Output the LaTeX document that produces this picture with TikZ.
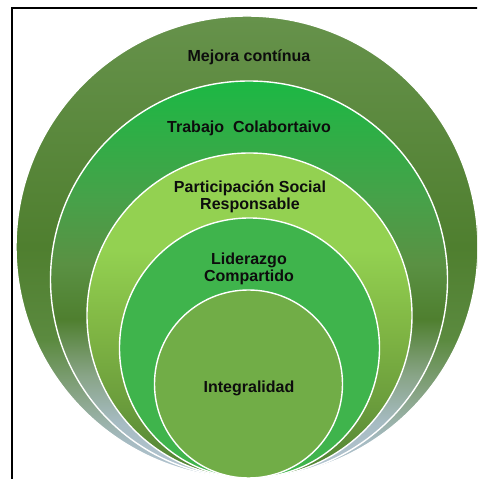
\documentclass[tikz,border=0pt]{standalone}
\usepackage{fontspec}
\setmainfont{Liberation Sans}

\definecolor{grisazul}{HTML}{B6C7D4}
\definecolor{grisclaro}{HTML}{A6BBC2}
\definecolor{grisverde}{HTML}{88A486}
\definecolor{oliva}{HTML}{66924B}
\definecolor{olivaosc}{HTML}{4F7F2F}
\definecolor{olivamed}{HTML}{5B8A3F}
\definecolor{verdevivo}{HTML}{1CB844}
\definecolor{verdemed}{HTML}{47A149}
\definecolor{verdeoliva}{HTML}{5A9143}
\definecolor{verdeclaro}{HTML}{93D151}
\definecolor{verdeclaro2}{HTML}{80B644}
\definecolor{verdeclaro3}{HTML}{6A9C3C}
\definecolor{verdeclaro4}{HTML}{4F8035}
\definecolor{verdelider}{HTML}{3FB44C}
\definecolor{verdeinteg}{HTML}{71AD47}

\pgfdeclareverticalshading{sombramejora}{100bp}{color(0bp)=(grisazul); color(25bp)=(grisazul); color(29bp)=(grisclaro); color(34bp)=(grisverde); color(40bp)=(olivamed); color(50bp)=(olivaosc); color(75bp)=(oliva); color(100bp)=(oliva)}
\pgfdeclareverticalshading{sombratrabajo}{100bp}{color(0bp)=(grisazul); color(25bp)=(grisazul); color(32bp)=(grisclaro); color(38bp)=(grisverde); color(45bp)=(olivaosc); color(52bp)=(verdeoliva); color(60bp)=(verdemed); color(75bp)=(verdevivo); color(100bp)=(verdevivo)}
\pgfdeclareverticalshading{sombraparticipacion}{100bp}{color(0bp)=(verdeclaro4); color(25bp)=(verdeclaro4); color(36bp)=(verdeclaro3); color(48bp)=(verdeclaro2); color(60bp)=(verdeclaro); color(75bp)=(verdeclaro); color(100bp)=(verdeclaro)}

\tikzset{
  anillo/.style={circle, draw=white, line width=1.4pt, inner sep=0pt, outer sep=0pt},
  etiqueta/.style={text=black!95, font=\bfseries\fontsize{16}{16.8}\selectfont, align=center},
  marco/.style={draw=black, line width=2pt}
}

\begin{document}
\begin{tikzpicture}[x=1pt,y=1pt]
\useasboundingbox (0,0) rectangle (477,479);
\clip (0,0) rectangle (477,479);

% marco
\coordinate (marcoab) at (12,-5);
\coordinate (marcoar) at (490,471);
\draw[marco] (marcoab) |- (marcoar);

% circulos
\node[anillo, minimum size=462pt, shade, shading=sombramejora] (mejora) at (247,232) {};
\node[anillo, minimum size=397pt, shade, shading=sombratrabajo] (trabajo) at (249,199.5) {};
\node[anillo, minimum size=325pt, shade, shading=sombraparticipacion] (participacion) at (249.5,163.5) {};
\node[anillo, minimum size=260pt, fill=verdelider] (liderazgo) at (249.5,131) {};
\node[anillo, minimum size=188pt, fill=verdeinteg] (integralidad) at (248.5,95) {};

% textos
\node[etiqueta] (tmejora) at (249,422) {Mejora contínua};
\node[etiqueta] (ttrabajo) at (249,351) {Trabajo\ \ Colabortaivo};
\node[etiqueta] (tparticipacion) at (250,282) {Participación Social\\Responsable};
\node[etiqueta] (tliderazgo) at (249,210) {Liderazgo\\Compartido};
\node[etiqueta] (tintegralidad) at (249,91) {Integralidad};
\end{tikzpicture}
\end{document}
